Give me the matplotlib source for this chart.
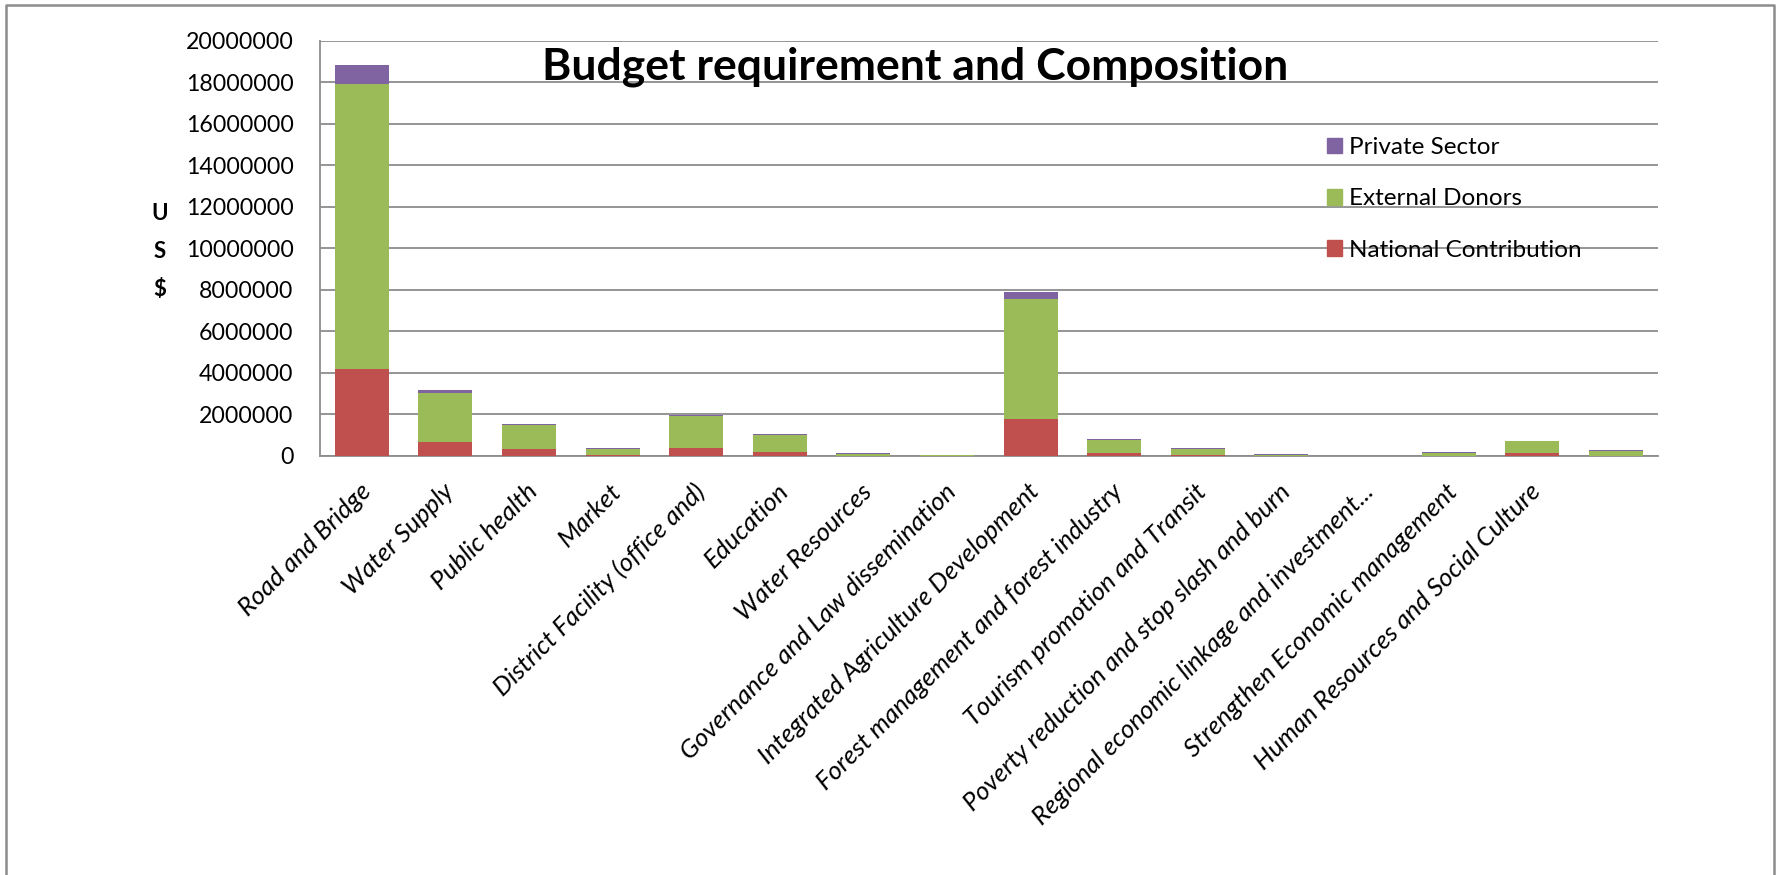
import matplotlib
matplotlib.use('Agg')
import matplotlib.pyplot as plt
import matplotlib.transforms as mtransforms
from matplotlib.lines import Line2D
from matplotlib.patches import Patch
import numpy as np

plt.rcParams['font.family'] = ['Lato', 'DejaVu Sans']

categories = ["Road and Bridge", "Water Supply", "Public health", "Market",
              "District Facility (office and)", "Education", "Water Resources",
              "Governance and Law dissemination", "Integrated Agriculture Development",
              "Forest management and forest industry", "Tourism promotion and Transit",
              "Poverty reduction and stop slash and burn",
              "Regional economic linkage and investment...",
              "Strengthen Economic management", "Human Resources and Social Culture", ""]

national = [4210000, 690000, 320000, 60000, 400000, 210000, 10000, 10000,
            1770000, 160000, 60000, 10000, 0, 10000, 145000, 10000]
external = [13720000, 2340000, 1160000, 280000, 1520000, 790000, 100000, 30000,
            5770000, 630000, 280000, 60000, 0, 150000, 565000, 250000]
private = [880000, 160000, 40000, 50000, 60000, 60000, 35000, 10000,
           370000, 30000, 50000, 10000, 0, 30000, 30000, 30000]

yticks = np.arange(0, 20000001, 2000000)

W, H = 1781, 875
fig = plt.figure(figsize=(W / 100, H / 100), dpi=100)
ax = fig.add_axes([320 / W, 1 - 456 / H, (1657.6 - 320) / W, (456 - 40.7) / H])

x = np.arange(len(categories))
nat = np.array(national)
ext = np.array(external)
prv = np.array(private)
bw = 0.645
ax.bar(x, nat, bw, color='#C0504D', label='National Contribution', zorder=3)
ax.bar(x, ext, bw, bottom=nat, color='#9BBB59', label='External Donors', zorder=3)
ax.bar(x, prv, bw, bottom=nat + ext, color='#8064A2', label='Private Sector', zorder=3)

ax.set_xlim(-0.5, len(categories) - 0.5)
ax.set_ylim(0, 20000000)
ax.set_yticks(yticks)
ax.set_yticklabels([str(v) for v in yticks], fontsize=16.7)
ax.yaxis.grid(True, color='#8C8C8C', linewidth=1.3, zorder=0)
ax.set_axisbelow(True)
for s in ['top', 'right']:
    ax.spines[s].set_visible(False)
for s in ['left', 'bottom']:
    ax.spines[s].set_color('#8C8C8C')
    ax.spines[s].set_linewidth(1.3)
ax.tick_params(axis='y', length=0, pad=19)
ax.tick_params(axis='x', length=0, pad=17)

ax.set_xticks(x)
ax.set_xticklabels(categories, rotation=45, ha='right', va='top',
                   rotation_mode='anchor', fontstyle='italic', fontsize=18.5)
offset = mtransforms.ScaledTranslation(-3 / 100, 0, fig.dpi_scale_trans)
for lab in ax.get_xticklabels():
    lab.set_transform(lab.get_transform() + offset)

fig.text(915 / W, 1 - 67 / H, 'Budget requirement and Composition',
         fontsize=32, fontweight='bold', ha='center', va='center')
fig.text(160 / W, 1 - 251 / H, 'U\nS\n$', fontsize=16, fontweight='bold',
         ha='center', va='center', linespacing=2.0)

handles = [Patch(color='#8064A2'), Patch(color='#9BBB59'), Patch(color='#C0504D')]
labels = ['Private Sector', 'External Donors', 'National Contribution']
ax.legend(handles, labels, loc='upper left', bbox_to_anchor=(1327 / W, 1 - 137 / H),
          bbox_transform=fig.transFigure, frameon=False, fontsize=17.5,
          handlelength=0.6, handleheight=0.6, handletextpad=0.3,
          labelspacing=1.25, borderaxespad=0, borderpad=0)

# outer frame
fx = [6 / W, 6 / W, 1774 / W, 1774 / W]
fy = [0, 1 - 5 / H, 1 - 5 / H, 0]
fig.add_artist(Line2D(fx, fy, color='#8C8C8C', linewidth=1.8, transform=fig.transFigure))

fig.savefig('out.png', dpi=100)
